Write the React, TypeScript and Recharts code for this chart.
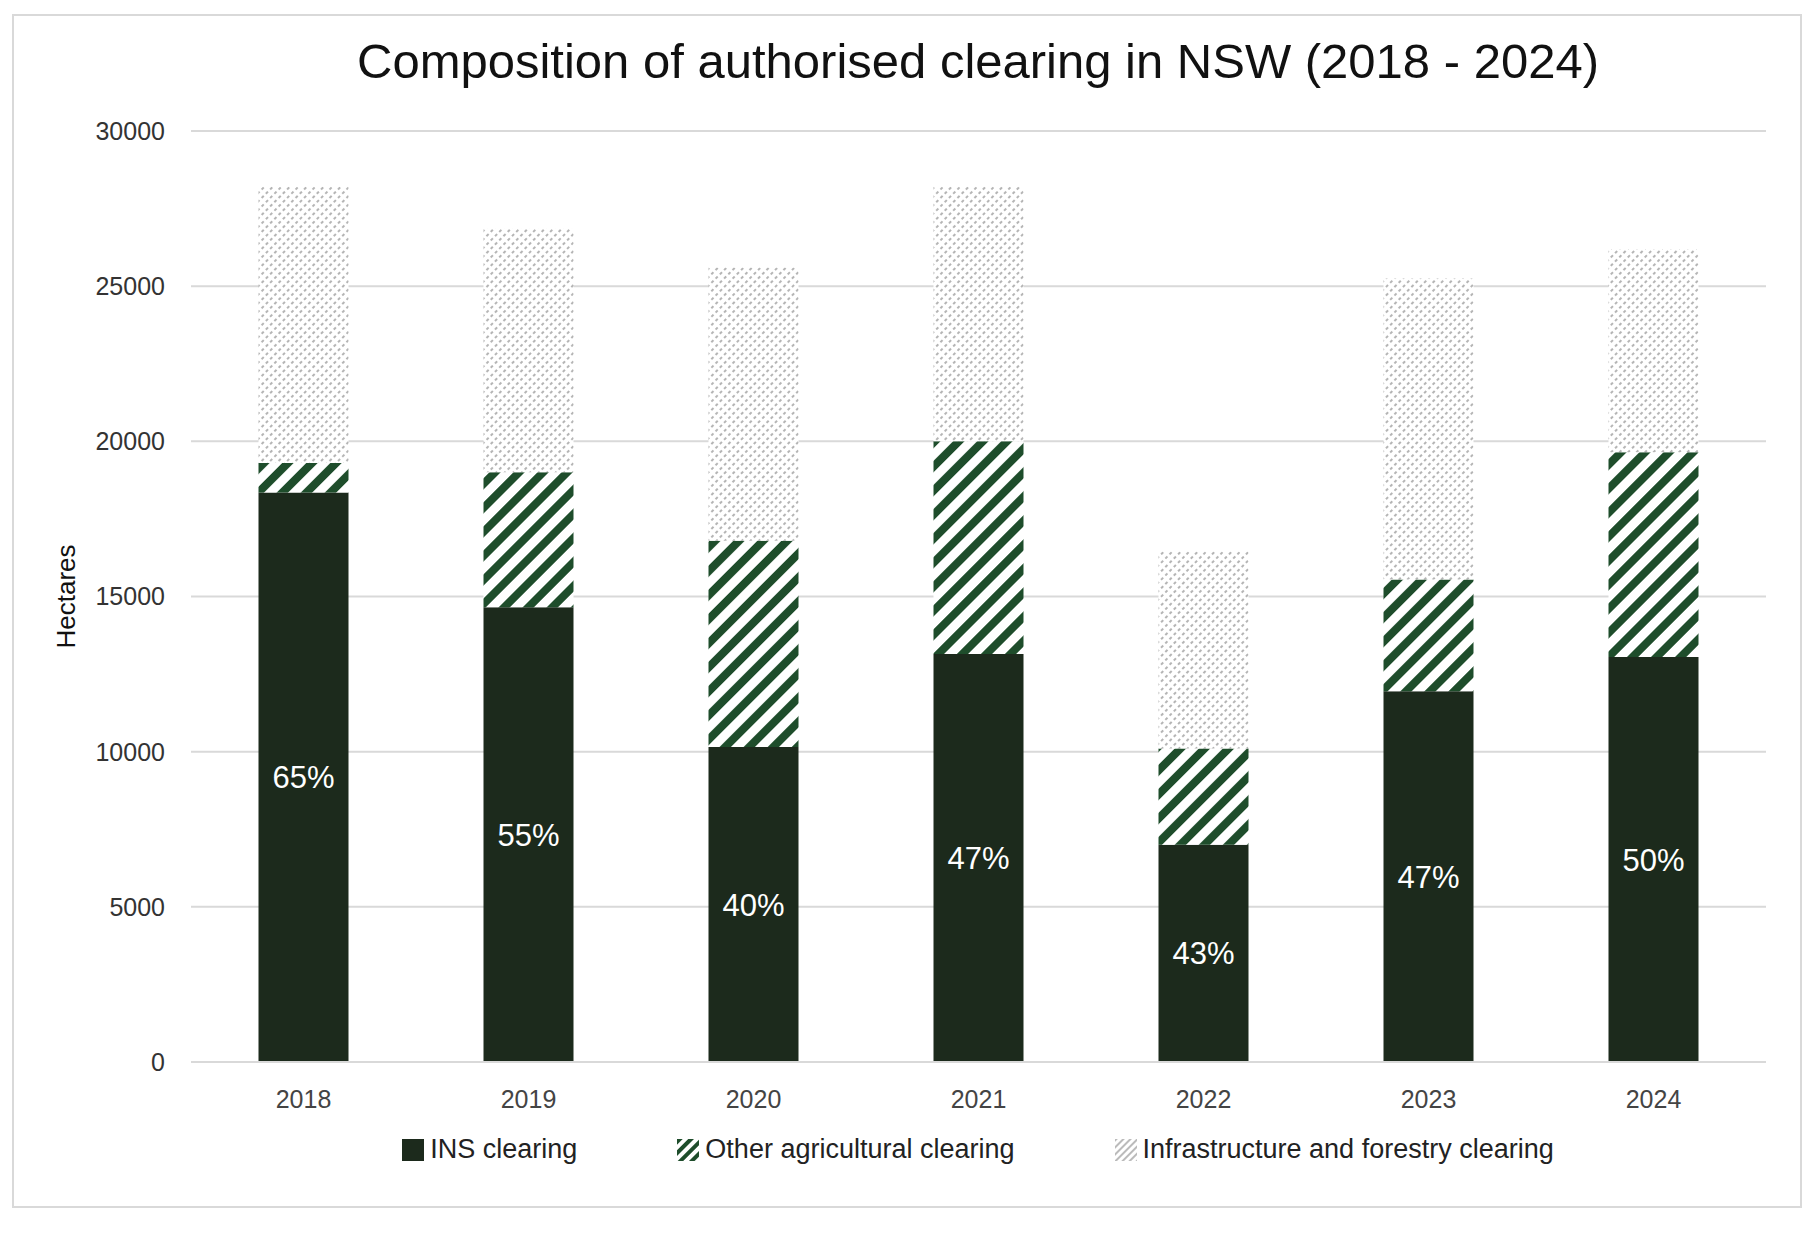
import React from 'react';
import { BarChart, Bar, XAxis, YAxis, CartesianGrid, Legend, LabelList } from 'recharts';

const years = ['2018', '2019', '2020', '2021', '2022', '2023', '2024'];
const insClearing = [18350, 14650, 10150, 13150, 7000, 11950, 13050];
const otherAgricultural = [950, 4350, 6650, 6850, 3100, 3600, 6600];
const infrastructureForestry = [8900, 7850, 8800, 8200, 6350, 9700, 6550];
const insShareLabels = ['65%', '55%', '40%', '47%', '43%', '47%', '50%'];
const yTicks = [0, 5000, 10000, 15000, 20000, 25000, 30000];

const data = years.map((y, i) => ({
  year: y,
  ins: insClearing[i],
  other: otherAgricultural[i],
  infra: infrastructureForestry[i],
  share: insShareLabels[i],
}));

const FONT = '"Liberation Sans", Arial, Helvetica, sans-serif';

const LegendContent = () => {
  const items = [
    { label: 'INS clearing', fill: '#1c2a1c' },
    { label: 'Other agricultural clearing', fill: 'url(#stripesL)' },
    { label: 'Infrastructure and forestry clearing', fill: 'url(#dotsL)' },
  ];
  return (
    <div style={{ display: 'flex', justifyContent: 'center', gap: 100, fontFamily: FONT, fontSize: 27, color: '#222', marginLeft: 190 }}>
      {items.map((it) => (
        <div key={it.label} style={{ display: 'flex', alignItems: 'center', gap: 6 }}>
          <svg width={22} height={22}>
            <defs>
              <pattern id="stripesL" width="8" height="8" patternUnits="userSpaceOnUse" patternTransform="rotate(45)">
                <rect width="8" height="8" fill="#fff" />
                <rect width="4" height="8" fill="#1e4d2b" />
              </pattern>
              <pattern id="dotsL" width="5" height="5" patternUnits="userSpaceOnUse" patternTransform="rotate(45)">
                <rect width="5" height="5" fill="#fff" />
                <rect width="2" height="5" fill="#bbb" />
              </pattern>
            </defs>
            <rect width={22} height={22} fill={it.fill} />
          </svg>
          <span>{it.label}</span>
        </div>
      ))}
    </div>
  );
};

export default function App() {
  return (
    <div style={{ position: 'absolute', left: 0, top: 0, width: 1813, height: 1233, background: '#fff' }}>
      <div style={{ position: 'absolute', left: 12, top: 14, width: 1786, height: 1190, border: '2px solid #d9d9d9' }} />
      <div style={{ position: 'absolute', left: 190, width: 1576, top: 33, textAlign: 'center', fontFamily: FONT, fontSize: 49, color: '#111' }}>
        Composition of authorised clearing in NSW (2018 - 2024)
      </div>
      <div style={{ position: 'absolute', left: 0, top: 0 }}>
        <BarChart width={1813} height={1233} data={data} margin={{ top: 131, right: 47, bottom: 110, left: 0 }} barCategoryGap="30%">
          <defs>
            <pattern id="stripes" width="17" height="17" patternUnits="userSpaceOnUse" patternTransform="rotate(45)">
              <rect width="17" height="17" fill="#fff" />
              <rect width="8" height="17" fill="#1e4d2b" />
            </pattern>
            <pattern id="dots" width="6" height="6" patternUnits="userSpaceOnUse" patternTransform="rotate(45)">
              <rect width="6" height="6" fill="#fff" />
              <rect width="2" height="3" fill="#b5b5b5" />
            </pattern>
          </defs>
          <CartesianGrid vertical={false} stroke="#d9d9d9" strokeWidth={2} />
          <XAxis dataKey="year" tickLine={false} axisLine={{ stroke: '#d9d9d9', strokeWidth: 2 }} tick={{ fontFamily: FONT, fontSize: 25, fill: '#444' }} tickMargin={22} />
          <YAxis width={191} domain={[0, 30000]} ticks={yTicks} tickLine={false} axisLine={false} tick={{ fontFamily: FONT, fontSize: 25, fill: '#333' }} tickMargin={20}
            label={{ value: 'Hectares', angle: -90, position: 'insideLeft', offset: 66, style: { fontFamily: FONT, fontSize: 26, fill: '#111', textAnchor: 'middle' } }} />
          <Legend verticalAlign="bottom" content={<LegendContent />} wrapperStyle={{ bottom: 68 }} />
          <Bar dataKey="ins" stackId="a" fill="#1c2a1c" isAnimationActive={false} name="INS clearing">
            <LabelList dataKey="share" position="center" style={{ fontFamily: FONT, fontSize: 31, fill: '#fff' }} />
          </Bar>
          <Bar dataKey="other" stackId="a" fill="url(#stripes)" isAnimationActive={false} name="Other agricultural clearing" />
          <Bar dataKey="infra" stackId="a" fill="url(#dots)" isAnimationActive={false} name="Infrastructure and forestry clearing" />
        </BarChart>
      </div>
    </div>
  );
}
